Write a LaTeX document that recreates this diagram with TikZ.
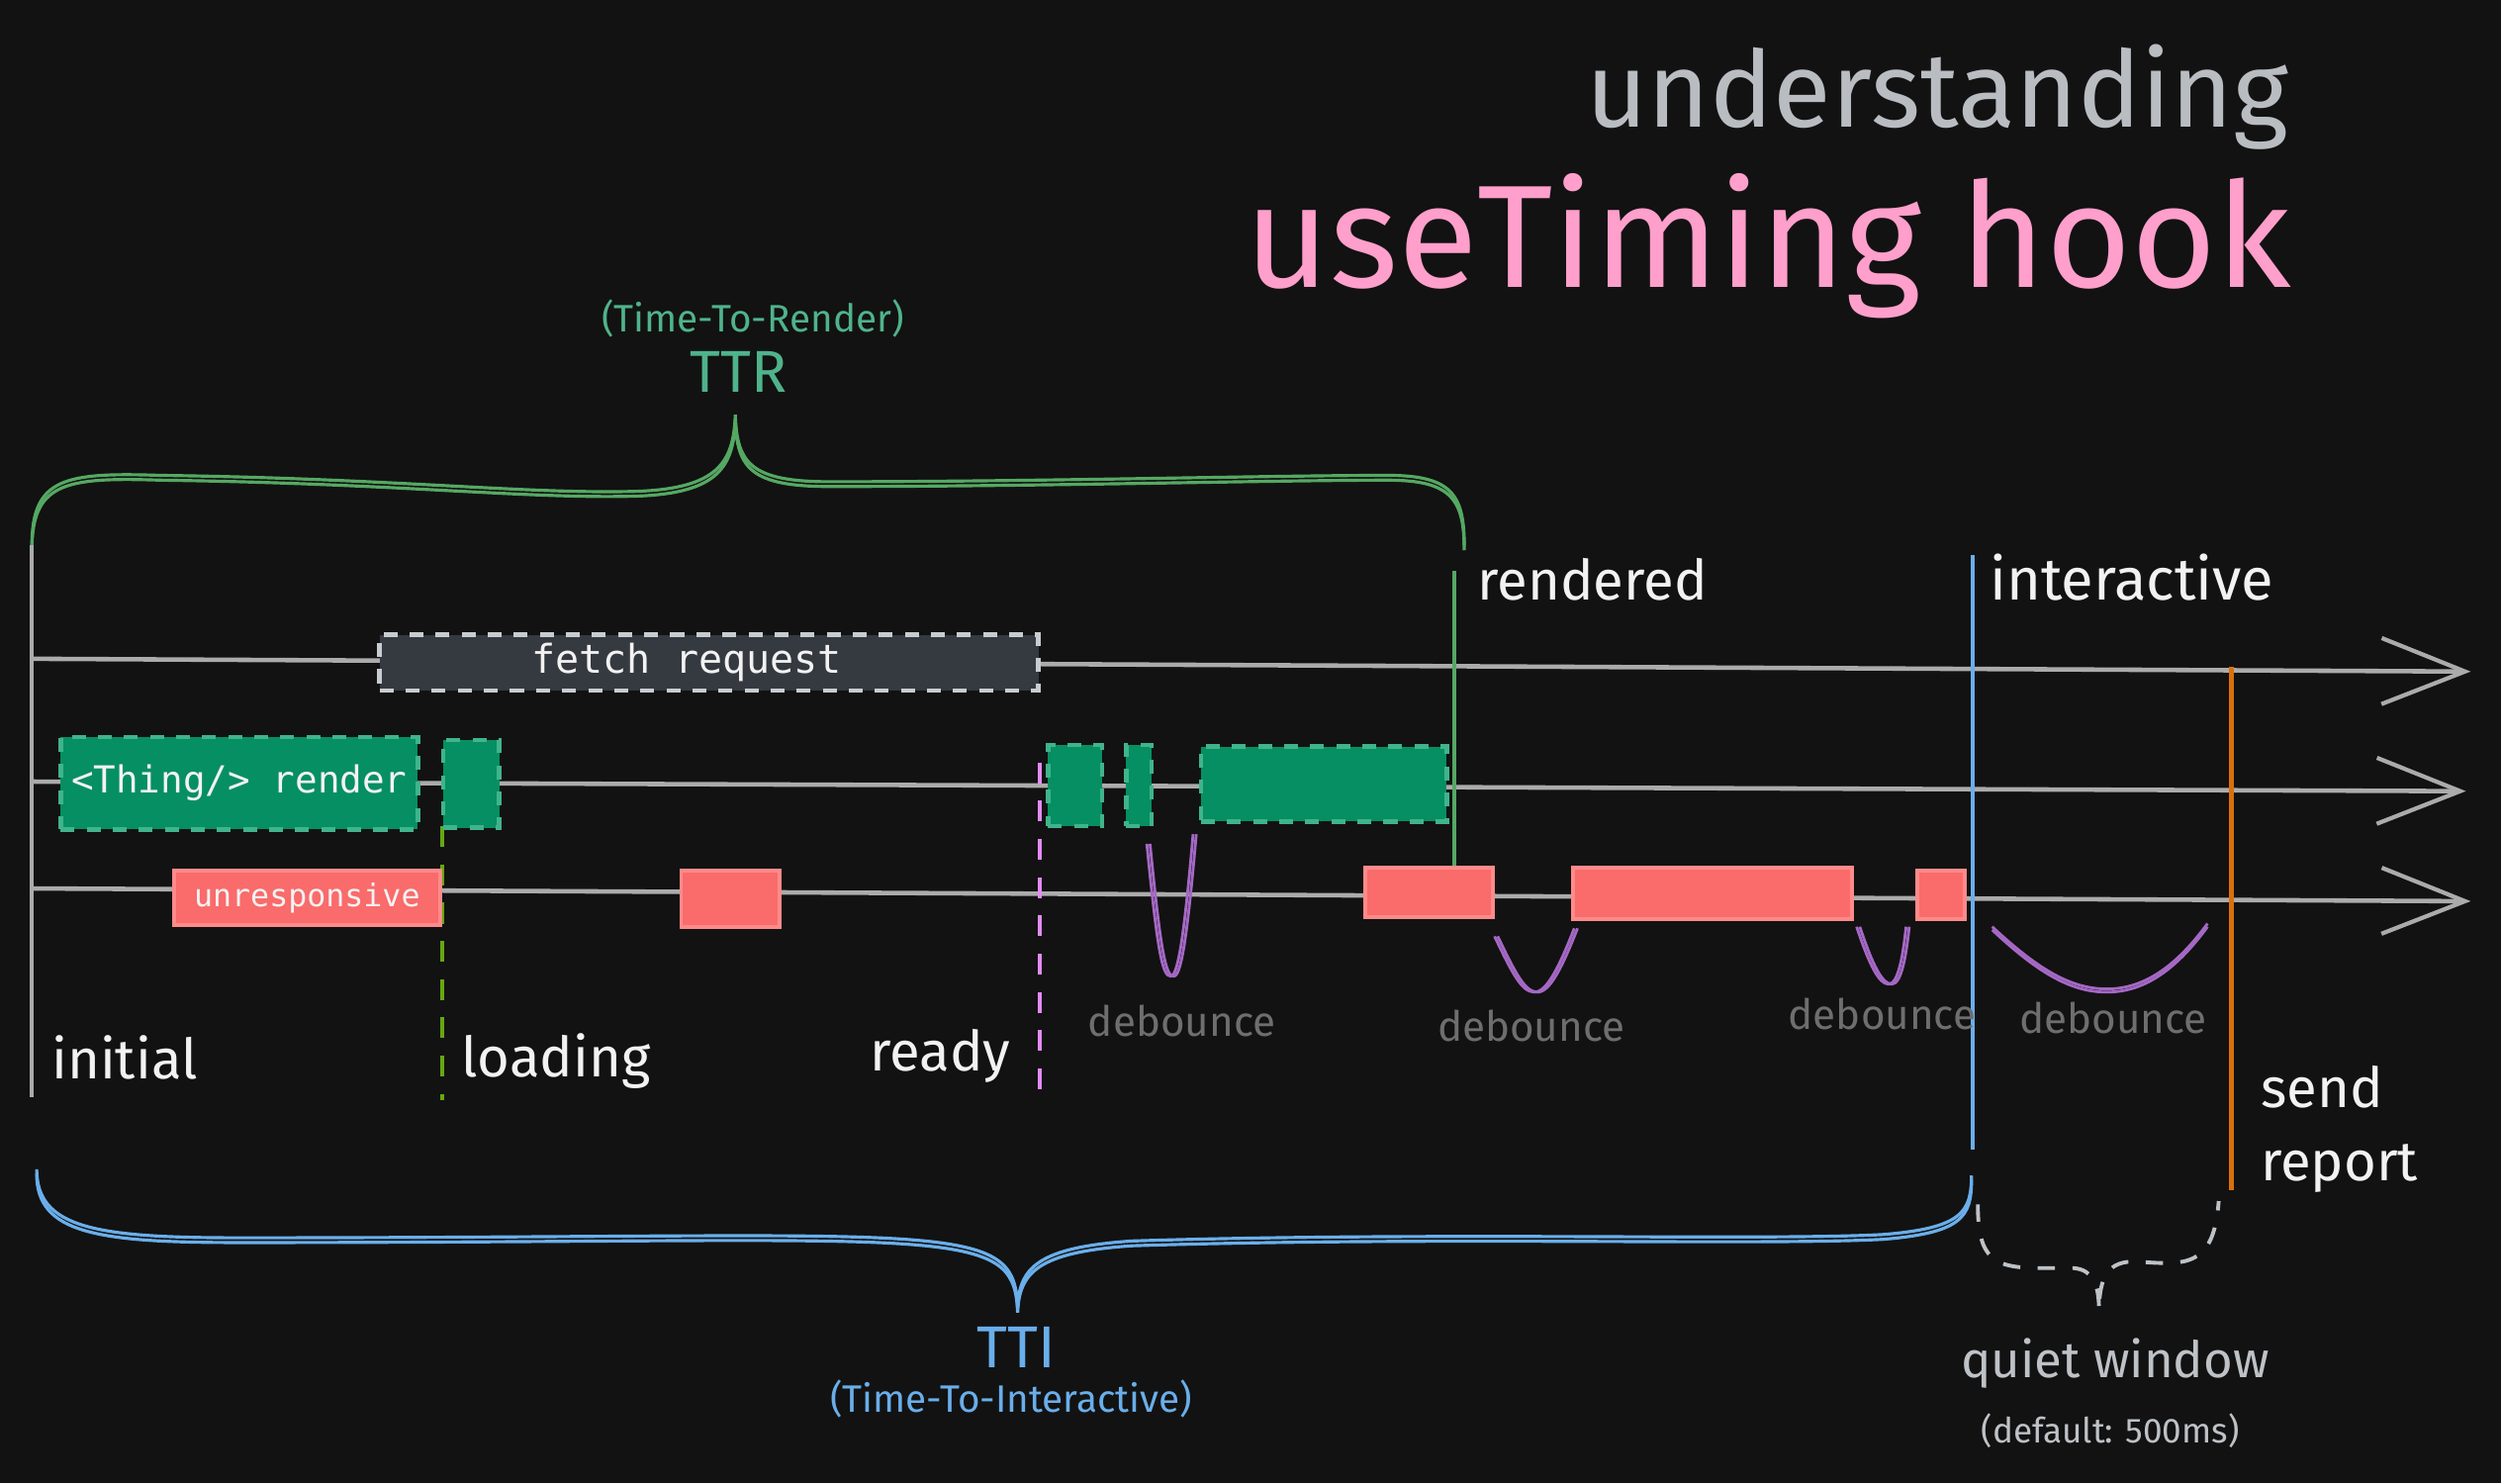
\documentclass[tikz,border=0pt]{standalone}
\usepackage{fontspec}
\setmainfont{Fira Sans}
\setmonofont{DejaVu Sans Mono}
\usetikzlibrary{arrows.meta,positioning}

\definecolor{bg}{HTML}{121212}
\definecolor{axis}{HTML}{ABABAB}
\definecolor{inkwhite}{HTML}{F2F2F2}
\definecolor{titlegray}{HTML}{B9BDC1}
\definecolor{hookpink}{HTML}{FF9FCB}
\definecolor{ttrgreen}{HTML}{4FB38C}
\definecolor{bracegreen}{HTML}{55A862}
\definecolor{ttiblue}{HTML}{6AAEEA}
\definecolor{fetchfill}{HTML}{343A40}
\definecolor{fetchedge}{HTML}{C8CCD0}
\definecolor{renderfill}{HTML}{068F63}
\definecolor{renderedge}{HTML}{40B48B}
\definecolor{busyfill}{HTML}{FA6B6B}
\definecolor{busyedge}{HTML}{FF8A8A}
\definecolor{debpurple}{HTML}{A468C4}
\definecolor{debgray}{HTML}{6E6E6E}
\definecolor{loadgreen}{HTML}{66A80F}
\definecolor{readypink}{HTML}{E38BF5}
\definecolor{sendorange}{HTML}{D9700C}
\definecolor{quietgray}{HTML}{BEC2C6}

\newcommand{\ux}{0.016122cm}

\begin{document}
\begin{tikzpicture}[x=\ux,y=-\ux,>=Stealth,
    lane/.style={draw=axis,line width=1.3pt,-{Straight Barb[length=24pt,width=19pt,line width=1.2pt]}},
    fetchbox/.style={fill=fetchfill,draw=fetchedge,line width=1.3pt,dash pattern=on 4pt off 3.5pt,
        text=inkwhite,font=\ttfamily\fontsize{11.4}{13}\selectfont,inner sep=0pt},
    renderbox/.style={fill=renderfill,draw=renderedge,line width=1.3pt,dash pattern=on 4pt off 3.5pt,
        text=inkwhite,font=\ttfamily\fontsize{10.7}{13}\selectfont,inner sep=0pt},
    busybox/.style={fill=busyfill,draw=busyedge,line width=1.1pt,
        text=inkwhite,font=\ttfamily\fontsize{9}{11}\selectfont,inner sep=0pt},
    lbl/.style={text=inkwhite,font=\fontsize{16}{21}\selectfont,inner sep=0pt},
    deblbl/.style={text=debgray,font=\fontsize{12}{14}\selectfont,inner sep=0pt},
    dip/.style={draw=debpurple,line width=0.8pt},
    ]
\fill[bg] (0,0) rectangle (1568,930);
\useasboundingbox (0,0) rectangle (1568,930);

% title
\node[anchor=base east,text=titlegray,font=\fontsize{30.5}{36}\selectfont,inner sep=0pt] (title) at (1435,80) {understanding};
\node[anchor=base east,text=hookpink,font=\fontsize{42}{50}\selectfont,inner sep=0pt] (hook) at (1437,180) {useTiming hook};

% TTR brace
\node[text=ttrgreen,font=\fontsize{11}{13}\selectfont,inner sep=0pt] (ttrlong) at (472,200) {(Time-To-Render)};
\node[text=ttrgreen,font=\fontsize{17}{20}\selectfont,inner sep=0pt] (ttr) at (463,233) {TTR};
\foreach \d in {0,3}
  \draw[bracegreen,line width=0.9pt,yshift=-\d*\ux]
    (20,342) .. controls (20,300) and (40,296) .. (100,298)
    .. controls (250,300) and (330,310) .. (400,308)
    .. controls (450,306) and (460,290) .. (461,260)
    .. controls (462,290) and (470,302) .. (520,302)
    .. controls (650,302) and (800,298) .. (870,298)
    .. controls (910,298) and (918,310) .. (918,342);

% lanes
\coordinate (f0) at (20,413); \coordinate (f1) at (1549,421);
\coordinate (r0) at (20,490); \coordinate (r1) at (1546,496);
\coordinate (u0) at (20,557); \coordinate (u1) at (1549,565);
\draw[lane] (f0) -- (f1);
\draw[lane] (r0) -- (r1);
\draw[lane] (u0) -- (u1);

% markers
\coordinate (initTop) at (20,342); \coordinate (initBot) at (20,688);
\coordinate (loadTop) at (277,518); \coordinate (loadBot) at (277,690);
\coordinate (readyTop) at (652,478); \coordinate (readyBot) at (652,688);
\coordinate (rendTop) at (912,358); \coordinate (rendBot) at (912,545);
\coordinate (interTop) at (1237,348); \coordinate (interBot) at (1237,721);
\coordinate (sendTop) at (1399,418); \coordinate (sendBot) at (1399,746);
\draw[axis,line width=1.2pt] (initTop) -- (initBot);
\draw[loadgreen,line width=1.1pt,dash pattern=on 6pt off 5pt] (loadTop) -- (loadBot);
\draw[readypink,line width=1.1pt,dash pattern=on 6pt off 5pt] (readyTop) -- (readyBot);
\draw[bracegreen,line width=1.1pt] (rendTop) -- (rendBot);
\draw[ttiblue,line width=1.2pt] (interTop) -- (interBot);
\draw[sendorange,line width=1.2pt] (sendTop) -- (sendBot);

% fetch
\node[fetchbox,minimum width=413*\ux,minimum height=35*\ux] (fetch) at (444.5,415.5) {fetch request\hspace*{0.45cm}};

% render
\node[renderbox,minimum width=224*\ux,minimum height=58*\ux] (rb1) at (150,491) {<Thing/> render};
\node[renderbox,minimum width=35*\ux,minimum height=55*\ux] (rb2) at (295.5,491.5) {};
\node[renderbox,minimum width=34*\ux,minimum height=51*\ux] (rb3) at (674,492.5) {};
\node[renderbox,minimum width=16*\ux,minimum height=51*\ux] (rb4) at (714,492.5) {};
\node[renderbox,minimum width=154*\ux,minimum height=47*\ux] (rb5) at (830,491.5) {};

% unresponsive
\node[busybox,minimum width=167*\ux,minimum height=34*\ux] (ub1) at (192.5,563) {unresponsive};
\node[busybox,minimum width=62*\ux,minimum height=35*\ux] (ub2) at (458,563.5) {};
\node[busybox,minimum width=80*\ux,minimum height=31*\ux] (ub3) at (896,559.5) {};
\node[busybox,minimum width=175*\ux,minimum height=32*\ux] (ub4) at (1073.5,560) {};
\node[busybox,minimum width=30*\ux,minimum height=30*\ux] (ub5) at (1217,561) {};

% debounce dips
\foreach \d in {0,2} {
  \draw[dip,xshift=\d*\ux] (719,529) .. controls (726,600) and (729,612) .. (734,612) .. controls (739,612) and (743,580) .. (748,523);
  \draw[dip,xshift=\d*\ux] (937,587) .. controls (948,610) and (954,622) .. (962,622) .. controls (970,622) and (978,605) .. (987,582);
  \draw[dip,xshift=\d*\ux] (1164,581) .. controls (1172,605) and (1178,617) .. (1184,617) .. controls (1190,617) and (1193,600) .. (1195,581);
  \draw[dip,yshift=-\d*\ux] (1249,581) .. controls (1280,610) and (1300,620) .. (1321,620) .. controls (1345,620) and (1365,605) .. (1384,579);
}
\node[deblbl] (deb1) at (741,640) {debounce};
\node[deblbl] (deb2) at (960,643) {debounce};
\node[deblbl] (deb3) at (1180,636) {debounce};
\node[deblbl] (deb4) at (1325,638) {debounce};

% state labels
\node[lbl,anchor=west] (initial) at (32,663) {initial};
\node[lbl,anchor=west] (loading) at (289,665) {loading};
\node[lbl,anchor=east] (ready) at (634,662) {ready};
\node[lbl,anchor=west] (rendered) at (926,363) {rendered};
\node[lbl,anchor=west,font=\fontsize{17}{21}\selectfont] (interactive) at (1247,362) {interactive};
\node[lbl,anchor=west,align=left] (send) at (1417,708) {send\\report};

% TTI brace
\foreach \d in {0,3}
  \draw[ttiblue,line width=0.9pt,yshift=-\d*\ux]
    (23,733) .. controls (23,770) and (60,776) .. (150,776)
    .. controls (400,776) and (520,772) .. (580,778)
    .. controls (630,783) and (637,795) .. (638,820)
    .. controls (639,795) and (650,782) .. (710,778)
    .. controls (900,772) and (1100,778) .. (1180,774)
    .. controls (1230,770) and (1236,760) .. (1236,737);
\node[text=ttiblue,font=\fontsize{17}{20}\selectfont,inner sep=0pt] (tti) at (637,845) {TTI};
\node[text=ttiblue,font=\fontsize{11}{13}\selectfont,inner sep=0pt] (ttilong) at (634,877) {(Time-To-Interactive)};

% quiet window
\draw[quietgray,line width=1.1pt,dash pattern=on 5pt off 5pt]
  (1240,755) .. controls (1240,790) and (1250,795) .. (1280,795)
  -- (1300,795) .. controls (1312,796) and (1316,805) .. (1316,822)
  .. controls (1316,800) and (1322,790) .. (1340,791)
  .. controls (1370,793) and (1388,795) .. (1391,753);
\node[text=quietgray,font=\fontsize{14.5}{17}\selectfont,inner sep=0pt] (quiet) at (1326,855) {quiet window};
\node[text=quietgray,font=\fontsize{10}{12}\selectfont,inner sep=0pt] (quietdef) at (1323,897) {(default: 500ms)};
\end{tikzpicture}
\end{document}
